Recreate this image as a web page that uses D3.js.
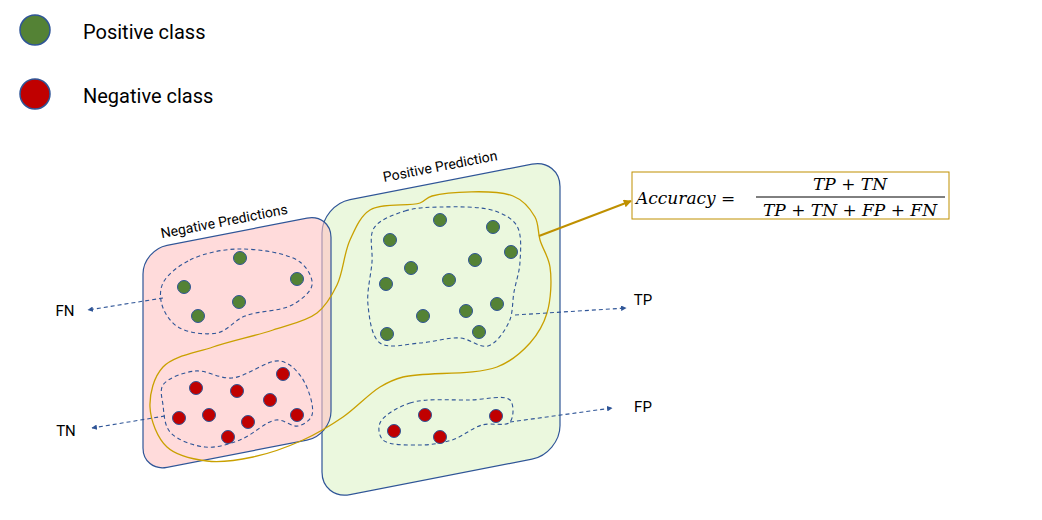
<!DOCTYPE html>
<html><head><meta charset="utf-8">
<script src="https://cdn.jsdelivr.net/npm/d3@7"></script>
<style>body{margin:0;background:#fff}</style>
</head><body>
<div id="chart"></div>
<script>
// legend
var legendItems = ['Positive class', 'Negative class'];
var legendColors = ['#548235', '#c00000'];

// dots (image coordinates)
var greenNeg = [[184,287],[240,258],[297,279],[198,316],[239,302]];
var redNeg = [[196,388],[237,391],[283,374],[270,400],[179,418],[209,415],[248,422],[297,415],[228,437]];
var greenPos = [[390,240],[440,220],[493,227],[511,252],[411,268],[475,260],[449,280],[386,284],[497,304],[423,316],[466,311],[387,334],[479,332]];
var redPos = [[394,431],[425,415],[440,437],[496,416]];

// dashed cluster outlines
var blobFN = [[163,283],[190,260],[240,249],[300,262],[312,285],[292,305],[245,316],[217,333],[178,327],[162,305]];
var blobTN = [[163,385],[195,371],[232,378],[280,361],[302,378],[312,415],[298,426],[276,420],[240,440],[205,447],[170,432],[163,405]];
var blobTP = [[374,228],[405,211],[440,207],[495,211],[517,226],[520,262],[514,292],[509,322],[488,346],[460,338],[420,343],[380,343],[368,305],[372,262]];
var blobFP = [[380,423],[410,403],[470,400],[510,400],[510,422],[482,425],[452,440],[420,445],[383,440]];
var goldLoop = [[370,210],[420,203],[432,196],[513,196],[535,217],[540,240],[550,267],[547,313],[530,343],[497,367],[403,377],[380,387],[343,417],[303,440],[253,457],[207,461],[167,447],[150,407],[163,367],[213,347],[273,330],[317,313],[337,285],[350,240]];

// pointer arrows: [from, to, label, labelPos]
var arrows = [
  [[163,298],[88,310],'FN',[65,316]],
  [[165,416],[92,428],'TN',[66,436]],
  [[515,315],[626,308],'TP',[643,305]],
  [[510,422],[612,408],'FP',[643,412]]
];

var svg = d3.select('#chart').append('svg').attr('width', 1042).attr('height', 520);
var defs = svg.append('defs');
function marker(id, color, size) {
  defs.append('marker').attr('id', id).attr('viewBox', '0 0 10 10')
    .attr('refX', 9).attr('refY', 5).attr('markerWidth', size).attr('markerHeight', size)
    .attr('orient', 'auto').append('path').attr('d', 'M0,0L10,5L0,10z').attr('fill', color);
}
marker('blueArrow', '#2f5597', 5);
marker('goldArrow', '#bf9000', 4);

var blue = '#2f5597';
var narrow = 'Liberation Sans Narrow, Roboto, sans-serif';

// legend
legendItems.forEach(function (t, i) {
  svg.append('circle').attr('cx', 35).attr('cy', 30 + i * 64).attr('r', 15)
    .attr('fill', legendColors[i]).attr('stroke', blue).attr('stroke-width', 1.5);
  svg.append('text').attr('x', 83).attr('y', 39 + i * 64).text(t)
    .attr('font-family', narrow).attr('font-size', 20).attr('fill', '#000');
});

// panels (skewed rounded rects)
var skew = -11;
var tan = Math.tan(skew * Math.PI / 180);
svg.append('rect').attr('transform', `skewY(${skew})`)
  .attr('x', 322).attr('y', 205 - tan * 322).attr('width', 238).attr('height', 295)
  .attr('rx', 28).attr('fill', '#ebf8de').attr('stroke', blue).attr('stroke-width', 1.2);
svg.append('rect').attr('transform', `skewY(${skew})`)
  .attr('x', 143).attr('y', 250 - tan * 143).attr('width', 188).attr('height', 222)
  .attr('rx', 24).attr('fill', 'rgba(255,195,195,0.6)').attr('stroke', blue).attr('stroke-width', 1.2);

svg.append('text').attr('transform', 'translate(225,226) rotate(-11)').attr('text-anchor', 'middle')
  .attr('font-family', narrow).attr('font-size', 14).text('Negative Predictions');
svg.append('text').attr('transform', 'translate(441,171) rotate(-11)').attr('text-anchor', 'middle')
  .attr('font-family', narrow).attr('font-size', 14).text('Positive Prediction');

var blobLine = d3.line().curve(d3.curveCatmullRomClosed.alpha(0.5));

// gold loop
svg.append('path').attr('d', blobLine(goldLoop)).attr('fill', 'none').attr('stroke', '#c9a000').attr('stroke-width', 1.3);

// dashed blobs
[blobFN, blobTN, blobTP, blobFP].forEach(function (b) {
  svg.append('path').attr('d', blobLine(b)).attr('fill', 'none').attr('stroke', blue)
    .attr('stroke-width', 1.1).attr('stroke-dasharray', '4,3');
});

// dots
function dots(data, color) {
  svg.append('g').selectAll('circle').data(data).enter().append('circle')
    .attr('cx', d => d[0]).attr('cy', d => d[1]).attr('r', 6.5)
    .attr('fill', color).attr('stroke', blue).attr('stroke-width', 1);
}
dots(greenNeg, '#548235');
dots(redNeg, '#c00000');
dots(greenPos, '#548235');
dots(redPos, '#c00000');

// pointer arrows
arrows.forEach(function (a) {
  svg.append('line').attr('x1', a[0][0]).attr('y1', a[0][1]).attr('x2', a[1][0]).attr('y2', a[1][1])
    .attr('stroke', blue).attr('stroke-width', 1.1).attr('stroke-dasharray', '4,3')
    .attr('marker-end', 'url(#blueArrow)');
  svg.append('text').attr('x', a[3][0]).attr('y', a[3][1]).attr('text-anchor', 'middle').text(a[2])
    .attr('font-family', narrow).attr('font-size', 15);
});

// gold arrow to formula
svg.append('line').attr('x1', 539).attr('y1', 236).attr('x2', 631).attr('y2', 201)
  .attr('stroke', '#bf9000').attr('stroke-width', 2).attr('marker-end', 'url(#goldArrow)');

// formula box
svg.append('rect').attr('x', 632).attr('y', 172).attr('width', 317).attr('height', 47)
  .attr('fill', '#fff').attr('stroke', '#bf9000').attr('stroke-width', 1);
var ff = 'DejaVu Serif, Liberation Serif, serif';
svg.append('text').attr('x', 636).attr('y', 204).attr('font-family', ff).attr('font-style', 'italic')
  .attr('font-size', 17).text('Accuracy =');
svg.append('text').attr('x', 850).attr('y', 190).attr('text-anchor', 'middle').attr('font-family', ff)
  .attr('font-style', 'italic').attr('font-size', 17).text('TP + TN');
svg.append('line').attr('x1', 756).attr('x2', 945).attr('y1', 197).attr('y2', 197).attr('stroke', '#000').attr('stroke-width', 1);
svg.append('text').attr('x', 850).attr('y', 216).attr('text-anchor', 'middle').attr('font-family', ff)
  .attr('font-style', 'italic').attr('font-size', 17).text('TP + TN + FP + FN');
</script>
</body></html>
